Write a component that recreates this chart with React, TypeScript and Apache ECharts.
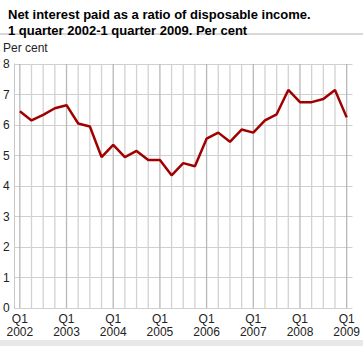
import React, { useEffect, useRef } from "react";
import * as echarts from "echarts";

const years = ["2002", "2003", "2004", "2005", "2006", "2007", "2008", "2009"];
const quarters = ["Q1", "Q2", "Q3", "Q4"];
const categories: string[] = [];
years.forEach((y) => quarters.forEach((q) => { if (categories.length < 29) categories.push(q + " " + y); }));

const ratio = [
  6.45, 6.15, 6.33, 6.55,
  6.65, 6.05, 5.95, 4.95,
  5.35, 4.95, 5.15, 4.85,
  4.85, 4.35, 4.75, 4.65,
  5.55, 5.75, 5.45, 5.85,
  5.75, 6.15, 6.35, 7.15,
  6.75, 6.75, 6.85, 7.15,
  6.25,
];

const yTicks = { min: 0, max: 8, interval: 1 };

const FONT = "Liberation Sans, Arial, sans-serif";

export default function App() {
  const ref = useRef<HTMLDivElement>(null);
  useEffect(() => {
    document.body.style.margin = "0";
    const chart = echarts.init(ref.current!, undefined, { renderer: "svg" });
    chart.setOption({
      animation: false,
      title: {
        text: "Net interest paid as a ratio of disposable income.\n1 quarter 2002-1 quarter 2009. Per cent",
        left: 3,
        top: 1,
        textStyle: {
          fontFamily: FONT,
          fontWeight: "bold",
          fontSize: 13,
          lineHeight: 16,
          color: "#000",
        },
      },
      graphic: [
        { type: "line", shape: { x1: 0, y1: 34, x2: 363, y2: 34 }, style: { stroke: "#d8d8d8", lineWidth: 2 } },
        { type: "rect", shape: { x: 0, y: 340, width: 363, height: 6 }, style: { fill: "#e8e8e8" } },
        {
          type: "text",
          left: 3,
          top: 42,
          style: { text: "Per cent", fontFamily: FONT, fontSize: 12, fill: "#222" },
        },
      ],
      grid: { left: 14, right: 10, top: 64, bottom: 38, containLabel: false },
      xAxis: {
        type: "category",
        data: categories,
        boundaryGap: true,
        axisLine: { show: false },
        axisTick: { show: false },
        axisLabel: {
          interval: 3,
          margin: 4,
          color: "#222",
          fontFamily: FONT,
          fontSize: 12,
          lineHeight: 13,
          formatter: (v: string) => v.replace(" ", "\n"),
        },
        splitLine: { show: false },
      },
      yAxis: {
        type: "value",
        min: yTicks.min,
        max: yTicks.max,
        interval: yTicks.interval,
        axisLine: { show: true, lineStyle: { color: "#c8c8c8" } },
        axisTick: { show: false },
        axisLabel: {
          margin: 11,
          align: "left",
          color: "#222",
          fontFamily: FONT,
          fontSize: 12,
          padding: [0, 0, 2, 0],
        },
        splitLine: { show: true, lineStyle: { color: "#d0d0d0", width: 1 } },
      },
      series: [
        {
          type: "custom",
          name: "vgrid",
          silent: true,
          z: 1,
          data: categories.map((c, i) => [i, i % 4 === 0 ? 1 : 0]),
          encode: { x: 0, y: 1 },
          renderItem: (params: any, api: any) => {
            const i = api.value(0);
            const top = api.coord([i, yTicks.max]);
            const bottom = api.coord([i, yTicks.min]);
            const x = top[0];
            return {
              type: "line",
              shape: { x1: x, y1: top[1], x2: x, y2: bottom[1] },
              style: { stroke: api.value(1) ? "#b8b8b8" : "#d2d2d2", lineWidth: 1.3 },
            };
          },
        },
        {
          type: "line",
          name: "ratio",
          data: ratio,
          symbol: "none",
          lineStyle: { color: "#a00000", width: 2.5 },
          z: 5,
        },
      ],
    });
    return () => chart.dispose();
  }, []);
  return <div ref={ref} style={{ width: 363, height: 346 }} />;
}
